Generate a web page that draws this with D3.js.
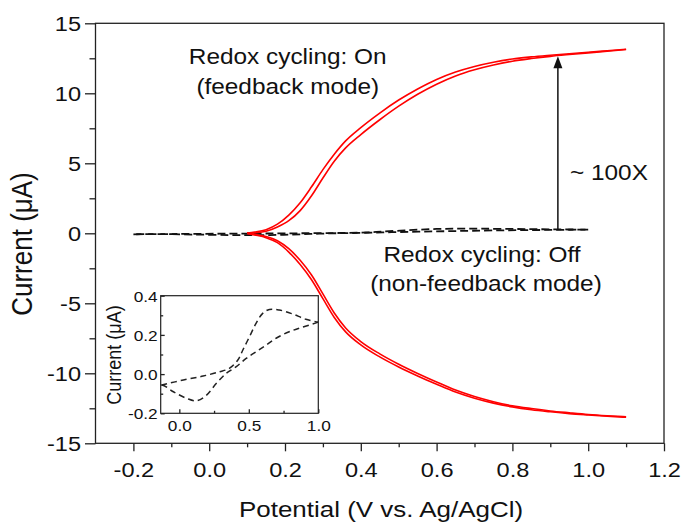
<!DOCTYPE html>
<html>
<head>
<meta charset="utf-8">
<script src="https://cdn.jsdelivr.net/npm/d3@7"></script>
<style>
  body { margin: 0; background: #fff; }
  svg { display: block; }
  text { font-family: "Liberation Sans", Arial, Helvetica, sans-serif; fill: #111; }
</style>
</head>
<body>
<div id="chart"></div>
<script>
// potential grid (V) for the redox-cycling (feedback) scans
const potentials = [0.10, 0.12, 0.15, 0.18, 0.21, 0.24, 0.27, 0.30, 0.33, 0.36, 0.40, 0.45, 0.50,
  0.55, 0.60, 0.65, 0.70, 0.75, 0.80, 0.85, 0.90, 0.95, 1.00, 1.05, 1.10];

// generator electrode, two scans (uA)
const genScanA = [0.02, 0.09, 0.26, 0.65, 1.3, 2.18, 3.32, 4.55, 5.65, 6.6, 7.55, 8.59, 9.52,
  10.31, 10.99, 11.52, 11.92, 12.22, 12.45, 12.6, 12.72, 12.83, 12.93, 13.04, 13.15];
const genScanB = [0.0, 0.03, 0.14, 0.45, 0.9, 1.62, 2.68, 3.95, 5.15, 6.1, 7.05, 8.11, 9.08,
  9.93, 10.65, 11.24, 11.68, 12.02, 12.29, 12.48, 12.64, 12.77, 12.89, 13.0, 13.13];

// collector electrode, two scans (uA)
const colScanA = [0.01, -0.08, -0.23, -0.53, -1.1, -1.93, -2.98, -4.33, -5.69, -6.76, -7.73, -8.61, -9.35,
  -10.01, -10.62, -11.2, -11.66, -12.03, -12.32, -12.52, -12.69, -12.82, -12.94, -13.03, -13.1];
const colScanB = [-0.01, -0.12, -0.31, -0.67, -1.34, -2.23, -3.32, -4.67, -6.01, -7.04, -7.97, -8.83, -9.55,
  -10.19, -10.78, -11.34, -11.78, -12.13, -12.4, -12.6, -12.75, -12.88, -12.98, -13.07, -13.14];

// non-feedback CV (dashed), forward and reverse sweep
const cvFwdV = [-0.2, -0.126, 0.029, 0.171, 0.29, 0.362, 0.421, 0.457, 0.505, 0.552, 0.6, 0.648, 0.719, 0.814, 0.91, 1.0];
const cvFwdI = [-0.07, -0.056, -0.03, -0.01, 0.012, 0.03, 0.072, 0.123, 0.191, 0.259, 0.31, 0.33, 0.327, 0.307, 0.28, 0.265];
const cvRevV = [1.0, 0.886, 0.79, 0.696, 0.624, 0.552, 0.481, 0.41, 0.338, 0.267, 0.196, 0.124, 0.053, -0.043, -0.126, -0.2];
const cvRevI = [0.265, 0.239, 0.216, 0.183, 0.148, 0.114, 0.08, 0.038, 0.004, -0.047, -0.107, -0.136, -0.124, -0.09, -0.056, -0.07];

const xMajor = [-0.2, 0.0, 0.2, 0.4, 0.6, 0.8, 1.0, 1.2];
const xMinor = [-0.1, 0.1, 0.3, 0.5, 0.7, 0.9, 1.1];
const yMajor = [-15, -10, -5, 0, 5, 10, 15];
const yMinor = [-12.5, -7.5, -2.5, 2.5, 7.5, 12.5];
const insetXMajor = [0.0, 0.5, 1.0];
const insetXMinor = [0.25, 0.75];
const insetYMajor = [-0.2, 0.0, 0.2, 0.4];
const insetYMinor = [-0.1, 0.1, 0.3];

const arrowAt = 0.92;
const arrowFrom = 0.27;
const arrowTo = 12.65;

const W = 684;
const H = 523;
const SX = 1.15; // glyphs in the source are a bit wide

const svg = d3.select('#chart').append('svg').attr('width', W).attr('height', H);

const x = d3.scaleLinear().domain([-0.3, 1.2]).range([95.5, 664]);
const y = d3.scaleLinear().domain([-15, 15]).range([443.3, 23.3]);

function label(g, px, py, str, size, anchor, sx) {
  return g.append('text')
    .attr('transform', `translate(${px},${py}) scale(${sx || SX},1)`)
    .attr('text-anchor', anchor || 'middle')
    .attr('font-size', size)
    .text(str);
}

function styleTicks(axisG) {
  axisG.select('.domain').remove();
  axisG.selectAll('line').attr('stroke', '#222').attr('stroke-width', 1.3);
}

// main axes
const xAxisG = svg.append('g').attr('transform', `translate(0,${y(-15)})`)
  .call(d3.axisBottom(x).tickValues(xMajor).tickSize(8).tickFormat((d) => d.toFixed(1)));
styleTicks(xAxisG);
xAxisG.selectAll('text')
  .attr('x', 0).attr('y', 34).attr('dy', null)
  .attr('font-size', 20.5)
  .attr('transform', `scale(${SX},1)`);

const xMinorG = svg.append('g').attr('transform', `translate(0,${y(-15)})`)
  .call(d3.axisBottom(x).tickValues(xMinor).tickSize(4).tickFormat(''));
styleTicks(xMinorG);

const yAxisG = svg.append('g').attr('transform', `translate(${x(-0.3)},0)`)
  .call(d3.axisLeft(y).tickValues(yMajor).tickSize(10.5).tickFormat((d) => String(d)));
styleTicks(yAxisG);
yAxisG.selectAll('text')
  .attr('x', -14.5 / SX).attr('dy', '0.36em')
  .attr('font-size', 20.5)
  .attr('transform', `scale(${SX},1)`);

const yMinorG = svg.append('g').attr('transform', `translate(${x(-0.3)},0)`)
  .call(d3.axisLeft(y).tickValues(yMinor).tickSize(6).tickFormat(''));
styleTicks(yMinorG);

svg.append('rect')
  .attr('x', x(-0.3)).attr('y', y(15))
  .attr('width', x(1.2) - x(-0.3)).attr('height', y(-15) - y(15))
  .attr('fill', 'none').attr('stroke', '#222').attr('stroke-width', 1.3);

// axis titles
label(svg, 381, 517, 'Potential (V vs. Ag/AgCl)', 22, 'middle', 1.18);
svg.append('text')
  .attr('transform', `translate(32,244) scale(1.1,1) rotate(-90)`)
  .attr('text-anchor', 'middle')
  .attr('font-size', 26)
  .text('Current (μA)');

// curves
const line = d3.line().x((d) => x(d[0])).y((d) => y(d[1])).curve(d3.curveMonotoneX);
const cvLine = d3.line().curve(d3.curveCatmullRom.alpha(0.5));

const plot = svg.append('g');

const cvMain = (vs, is) => cvLine(d3.zip(vs, is).map((d) => [x(d[0]), y(d[1])]));
[[cvFwdV, cvFwdI], [cvRevV, cvRevI]].forEach(([vs, is]) => {
  plot.append('path')
    .attr('d', cvMain(vs, is))
    .attr('fill', 'none').attr('stroke', '#111')
    .attr('stroke-width', 1.8).attr('stroke-dasharray', '8,4');
});

[genScanA, genScanB, colScanA, colScanB].forEach((series) => {
  plot.append('path')
    .datum(d3.zip(potentials, series))
    .attr('d', line)
    .attr('fill', 'none')
    .attr('stroke', '#ff0000')
    .attr('stroke-width', 1.6);
});

// arrow
const ax = x(arrowAt);
const tipY = y(arrowTo);
plot.append('line')
  .attr('x1', ax).attr('x2', ax)
  .attr('y1', y(arrowFrom)).attr('y2', tipY + 10)
  .attr('stroke', '#111').attr('stroke-width', 1.5);
plot.append('path')
  .attr('d', `M${ax},${tipY} L${ax - 4.5},${tipY + 12} L${ax + 4.5},${tipY + 12} Z`)
  .attr('fill', '#111');

// annotations
label(svg, 287.7, 63.5, 'Redox cycling: On', 21.2);
label(svg, 287.8, 93.5, '(feedback mode)', 21.2);
label(svg, 482, 262, 'Redox cycling: Off', 21.2);
label(svg, 486, 291, '(non-feedback mode)', 21.2);
label(svg, 570, 180, '~ 100X', 21.2, 'start');

// inset
const ix = d3.scaleLinear().domain([-0.134, 1.0]).range([160.7, 318.3]);
const iy = d3.scaleLinear().domain([-0.2, 0.4]).range([413.3, 295.7]);
const inset = svg.append('g');

inset.append('rect')
  .attr('x', ix(-0.134)).attr('y', iy(0.4))
  .attr('width', ix(1.0) - ix(-0.134)).attr('height', iy(-0.2) - iy(0.4))
  .attr('fill', '#fff');

svg.append('clipPath').attr('id', 'insetClip')
  .append('rect')
  .attr('x', ix(-0.134)).attr('y', iy(0.4))
  .attr('width', ix(1.0) - ix(-0.134)).attr('height', iy(-0.2) - iy(0.4));

const cvInset = (vs, is) => cvLine(d3.zip(vs, is).map((d) => [ix(d[0]), iy(d[1])]));
const insetData = inset.append('g').attr('clip-path', 'url(#insetClip)');
[[cvFwdV, cvFwdI], [cvRevV, cvRevI]].forEach(([vs, is]) => {
  insetData.append('path')
    .attr('d', cvInset(vs, is))
    .attr('fill', 'none').attr('stroke', '#222')
    .attr('stroke-width', 1.5).attr('stroke-dasharray', '6,4');
});

const ixAxis = inset.append('g').attr('transform', `translate(0,${iy(-0.2)})`)
  .call(d3.axisBottom(ix).tickValues(insetXMajor).tickSize(-4).tickFormat((d) => d.toFixed(1)));
styleTicks(ixAxis);
ixAxis.selectAll('text')
  .attr('x', 0).attr('y', 18).attr('dy', null)
  .attr('font-size', 15)
  .attr('transform', `scale(${SX},1)`);
const ixMinor = inset.append('g').attr('transform', `translate(0,${iy(-0.2)})`)
  .call(d3.axisBottom(ix).tickValues(insetXMinor).tickSize(-2.5).tickFormat(''));
styleTicks(ixMinor);

const iyAxis = inset.append('g').attr('transform', `translate(${ix(-0.134)},0)`)
  .call(d3.axisLeft(iy).tickValues(insetYMajor).tickSize(-4).tickFormat((d) => d.toFixed(1)));
styleTicks(iyAxis);
iyAxis.selectAll('text')
  .attr('x', -3 / SX).attr('dy', '0.36em')
  .attr('font-size', 15)
  .attr('transform', `scale(${SX},1)`);
const iyMinor = inset.append('g').attr('transform', `translate(${ix(-0.134)},0)`)
  .call(d3.axisLeft(iy).tickValues(insetYMinor).tickSize(-2.5).tickFormat(''));
styleTicks(iyMinor);

inset.append('rect')
  .attr('x', ix(-0.134)).attr('y', iy(0.4))
  .attr('width', ix(1.0) - ix(-0.134)).attr('height', iy(-0.2) - iy(0.4))
  .attr('fill', 'none').attr('stroke', '#222').attr('stroke-width', 1.2);

inset.append('text')
  .attr('transform', `translate(121,355) scale(${SX},1) rotate(-90)`)
  .attr('text-anchor', 'middle')
  .attr('font-size', 18)
  .text('Current (μA)');
</script>
</body>
</html>
